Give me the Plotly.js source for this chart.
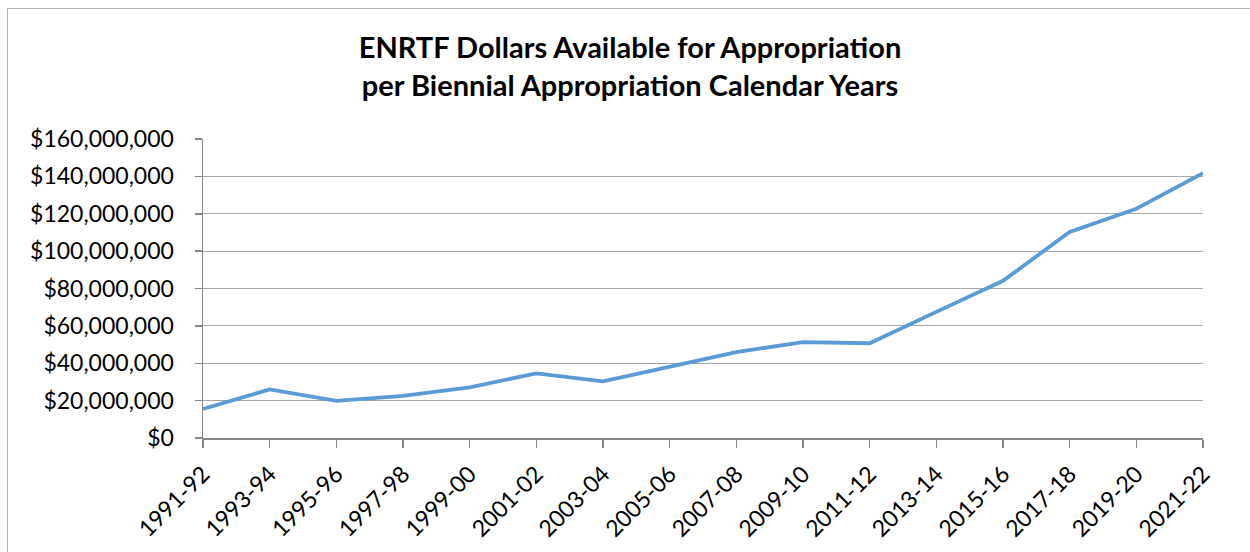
<!DOCTYPE html>
<html>
<head>
<meta charset="utf-8">
<script src="https://cdn.plot.ly/plotly-3.0.1.min.js"></script>
<style>
html,body{margin:0;padding:0;background:#fff;overflow:hidden;}
#chart{position:absolute;left:0;top:0;width:1250px;height:552px;}
#frame{position:absolute;left:7px;top:8px;width:1300px;height:600px;border:1.5px solid #b0b0b0;pointer-events:none;box-sizing:border-box;}
</style>
</head>
<body>
<div id="chart"></div>
<div id="frame"></div>
<script>
const periods = ["1991-92","1993-94","1995-96","1997-98","1999-00","2001-02","2003-04","2005-06","2007-08","2009-10","2011-12","2013-14","2015-16","2017-18","2019-20","2021-22"];
const dollarsAvailable = [15500000,26000000,19900000,22500000,27100000,34600000,30300000,38000000,46000000,51300000,50700000,67500000,84100000,110300000,122700000,141700000];
const yTickVals = [0,20000000,40000000,60000000,80000000,100000000,120000000,140000000,160000000];
const yTickText = ["$0","$20,000,000","$40,000,000","$60,000,000","$80,000,000","$100,000,000","$120,000,000","$140,000,000","$160,000,000"];

const font = "Lato, 'Open Sans', sans-serif";

Plotly.newPlot("chart", [{
  x: periods,
  y: dollarsAvailable,
  type: "scatter",
  mode: "lines",
  line: {color: "#5B9BD5", width: 3.8},
  hoverinfo: "x+y"
}], {
  width: 1250, height: 552,
  margin: {l: 203, r: 47, t: 139, b: 114},
  paper_bgcolor: "#fff", plot_bgcolor: "#fff",
  showlegend: false,
  title: {
    text: "<b>ENRTF Dollars Available for Appropriation<br>per Biennial Appropriation Calendar Years</b>",
    font: {family: font, size: 29, color: "#000"},
    x: 0.504, xref: "container", xanchor: "center",
    y: 0.895, yref: "container", yanchor: "middle"
  },
  xaxis: {
    type: "category",
    range: [0, 15],
    tickangle: -45,
    ticks: "outside", ticklen: 8, tickcolor: "#868686", tickwidth: 1.5,
    showline: true, linecolor: "#868686", linewidth: 1.5,
    showgrid: false, zeroline: false,
    tickfont: {family: font, size: 23, color: "#000"},
    ticklabelstandoff: 4
  },
  yaxis: {
    range: [0, 160000000],
    tickvals: yTickVals, ticktext: yTickText,
    ticks: "outside", ticklen: 7, tickcolor: "#868686", tickwidth: 1.5,
    showline: true, linecolor: "#868686", linewidth: 1.5,
    showgrid: true, gridcolor: "#a6a6a6", gridwidth: 1.2,
    zeroline: false,
    tickfont: {family: font, size: 23, color: "#000"},
    ticklabelstandoff: 16
  }
}, {displayModeBar: false, staticPlot: true});
</script>
</body>
</html>
